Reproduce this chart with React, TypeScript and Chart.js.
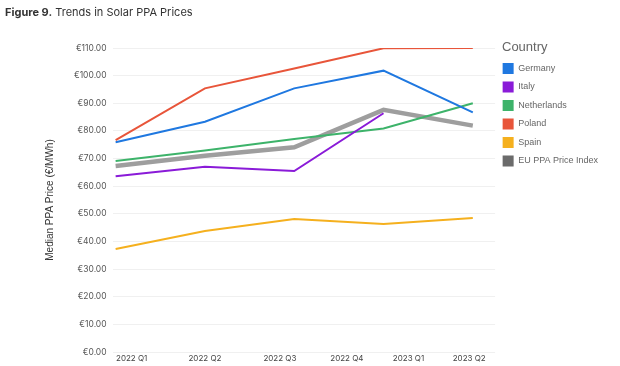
import React, { useEffect, useRef } from "react";
import { Chart, registerables } from "chart.js";

Chart.register(...registerables);

const quarterLabels = ["2022 Q1", "2022 Q2", "2022 Q3", "2022 Q4", "2023 Q1", "2023 Q2"];
// Positions of the quarter labels along the x axis (in data-point index units)
const quarterLabelPositions = [0.18, 1.0, 1.84, 2.59, 3.28, 3.96];
const pointIndex = [0, 1, 2, 3, 4];

const germany = [75.9, 83.3, 95.4, 101.8, 86.7];
const italy = [63.6, 67.0, 65.5, 86.4, null];
const netherlands = [69.1, 72.9, 77.1, 80.9, 90.0];
const poland = [76.7, 95.4, 102.6, 109.9, 110.0];
const spain = [37.3, 43.8, 48.1, 46.3, 48.5];
const euIndex = [67.3, 71.0, 74.1, 87.6, 81.9];

const seriesNames = ["Germany", "Italy", "Netherlands", "Poland", "Spain", "EU PPA Price Index"];
const seriesColors = ["#1f78e0", "#8a1bd8", "#3db36a", "#e8553a", "#f5b01e", "#9e9e9e"];
const legendColors = ["#1f78e0", "#8a1bd8", "#3db36a", "#e8553a", "#f5b01e", "#6b6b6b"];
const seriesWidths = [2, 2, 2, 2, 2, 4.5];

const FONT = "Inter, 'Noto Sans', sans-serif";
const SANS = "'Liberation Sans', Arial, sans-serif";

export default function App() {
  const ref = useRef<HTMLCanvasElement | null>(null);

  useEffect(() => {
    document.body.style.margin = "0";
    const values = [germany, italy, netherlands, poland, spain, euIndex];
    const chart = new Chart(ref.current!, {
      type: "line",
      data: {
        datasets: values.map((vals, i) => ({
          label: seriesNames[i],
          data: pointIndex.map((x, j) => ({ x, y: vals[j] as any })),
          borderColor: seriesColors[i],
          backgroundColor: seriesColors[i],
          borderWidth: seriesWidths[i],
          pointRadius: 0,
          tension: 0,
          spanGaps: false,
        })),
      },
      options: {
        animation: false,
        responsive: false,
        maintainAspectRatio: false,
        layout: { padding: { top: 48, left: 40, right: 12, bottom: 0 } },
        plugins: {
          tooltip: { enabled: false },
          legend: {
            position: "right",
            align: "start",
            // spacer above the items; the "Country" heading is drawn as HTML text
            title: {
              display: true,
              text: "",
              font: { family: SANS, size: 7.5, lineHeight: 1 },
              padding: 0,
            },
            labels: {
              boxWidth: 11,
              boxHeight: 11,
              padding: 7.5,
              color: "#333",
              font: { family: SANS, size: 9 },
              generateLabels: () =>
                seriesNames.map((n, i) => ({
                  text: n,
                  fillStyle: legendColors[i],
                  strokeStyle: legendColors[i],
                  lineWidth: 0,
                  hidden: false,
                  datasetIndex: i,
                })),
            },
          },
        },
        scales: {
          x: {
            type: "linear",
            min: -0.034,
            max: 4.25,
            grid: { display: false, drawTicks: false },
            border: { display: false },
            afterBuildTicks: (axis: any) => {
              axis.ticks = quarterLabelPositions.map((v) => ({ value: v }));
            },
            ticks: {
              autoSkip: false,
              maxRotation: 0,
              padding: 3,
              color: "#444",
              font: { family: FONT, size: 8, lineHeight: 1 },
              callback: (_v: any, i: number) => quarterLabels[i],
            },
          },
          y: {
            min: 0,
            max: 110,
            grid: { color: "#f0f0f0", drawTicks: false },
            border: { display: false },
            ticks: {
              stepSize: 10,
              padding: 6,
              color: "#555",
              font: { family: FONT, size: 8.5 },
              callback: (v: any) => "€" + Number(v).toFixed(2),
            },
            title: {
              display: true,
              text: "Median PPA Price (€/MWh)",
              color: "#333",
              font: { family: SANS, size: 10 },
              padding: { bottom: 12 },
            },
          },
        },
      },
    });
    return () => chart.destroy();
  }, []);

  return (
    <div style={{ position: "relative", width: 620, height: 366, background: "#fff" }}>
      <div
        style={{
          position: "absolute",
          left: 5,
          top: 5,
          fontFamily: FONT,
          fontSize: 11,
          color: "#333",
        }}
      >
        <b>Figure 9.</b> Trends in Solar PPA Prices
      </div>
      <div
        style={{
          position: "absolute",
          left: 502,
          top: 39,
          fontFamily: SANS,
          fontSize: 13,
          lineHeight: "16px",
          color: "#666",
        }}
      >
        Country
      </div>
      <canvas ref={ref} width={620} height={366} style={{ display: "block" }} />
    </div>
  );
}
